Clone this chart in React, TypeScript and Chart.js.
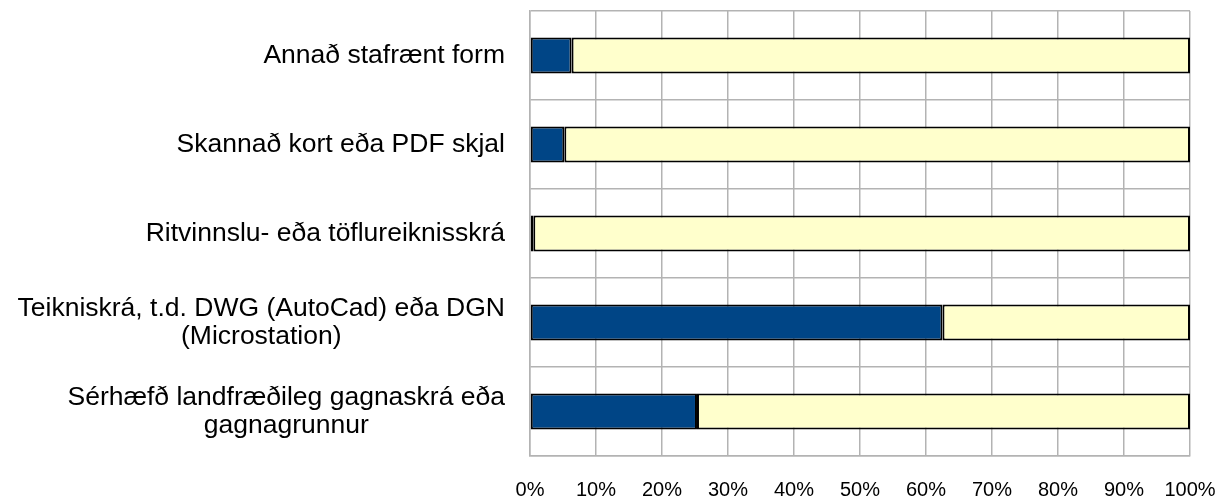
import React, { useEffect, useRef } from "react";
import { Chart, registerables } from "chart.js";

Chart.register(...registerables);

const categories: string[][] = [
  ["Annað stafrænt form"],
  ["Skannað kort eða PDF skjal"],
  ["Ritvinnslu- eða töflureiknisskrá"],
  ["Teikniskrá, t.d. DWG (AutoCad) eða DGN", "(Microstation)"],
  ["Sérhæfð landfræðileg gagnaskrá eða", "gagnagrunnur"],
];
const seriesA: number[] = [6.3, 5.2, 0.5, 62.5, 25.3];
const seriesB: number[] = [93.7, 94.8, 99.5, 37.5, 74.7];
const FONT = "'Liberation Sans', Arial, sans-serif";

const labelPlugin = {
  id: "catLabels",
  afterDraw(chart: any) {
    const ctx = chart.ctx;
    const y = chart.scales.y;
    ctx.save();
    ctx.font = `26.5px ${FONT}`;
    ctx.fillStyle = "#000";
    ctx.textBaseline = "middle";
    ctx.textAlign = "center";
    const right = 505;
    const lh = 28.5;
    categories.forEach((lines, i) => {
      const cy = y.getPixelForValue(i);
      const w = Math.max(...lines.map((l) => ctx.measureText(l).width));
      const cx = right - w / 2;
      const startY = cy - ((lines.length - 1) * lh) / 2;
      lines.forEach((l, j) => ctx.fillText(l, cx, startY + j * lh));
    });
    ctx.restore();
  },
};

export default function App() {
  const ref = useRef<HTMLCanvasElement>(null);
  useEffect(() => {
    document.body.style.margin = "0";
    const chart = new Chart(ref.current!, {
      type: "bar",
      data: {
        labels: categories.map((c) => c.join(" ")),
        datasets: [
          {
            label: "A",
            data: seriesA,
            backgroundColor: "#004586",
            borderColor: "#000000",
            borderWidth: 2,
            borderSkipped: false,
            barPercentage: 0.405,
            categoryPercentage: 1,
          },
          {
            label: "B",
            data: seriesB,
            backgroundColor: "#ffffcc",
            borderColor: "#000000",
            borderWidth: 2,
            borderSkipped: false,
            barPercentage: 0.405,
            categoryPercentage: 1,
          },
        ],
      },
      options: {
        indexAxis: "y",
        animation: false,
        responsive: false,
        layout: { padding: { left: 530, right: 31, top: 11, bottom: 0 } },
        plugins: { legend: { display: false }, tooltip: { enabled: false } },
        scales: {
          x: {
            stacked: true,
            min: 0,
            max: 100,
            afterFit: (s: any) => {
              s.height = 46;
              s.paddingLeft = 0;
              s.paddingRight = 0;
            },
            ticks: {
              stepSize: 10,
              padding: 22,
              color: "#000",
              font: { family: FONT, size: 20 },
              callback: (v: any) => v + "%",
            },
            grid: { color: "#b3b3b3", lineWidth: 1.5, drawTicks: false },
            border: { color: "#b3b3b3", width: 1.5 },
          },
          y: {
            stacked: true,
            afterFit: (s: any) => {
              s.width = 0;
            },
            ticks: { display: false },
            grid: { color: "#b3b3b3", lineWidth: 1.5, drawTicks: false, offset: true },
            border: { color: "#b3b3b3", width: 1.5 },
          },
        },
      },
      plugins: [labelPlugin],
    });
    return () => chart.destroy();
  }, []);
  return (
    <div style={{ width: 1221, height: 502 }}>
      <canvas ref={ref} width={1221} height={502} />
    </div>
  );
}
